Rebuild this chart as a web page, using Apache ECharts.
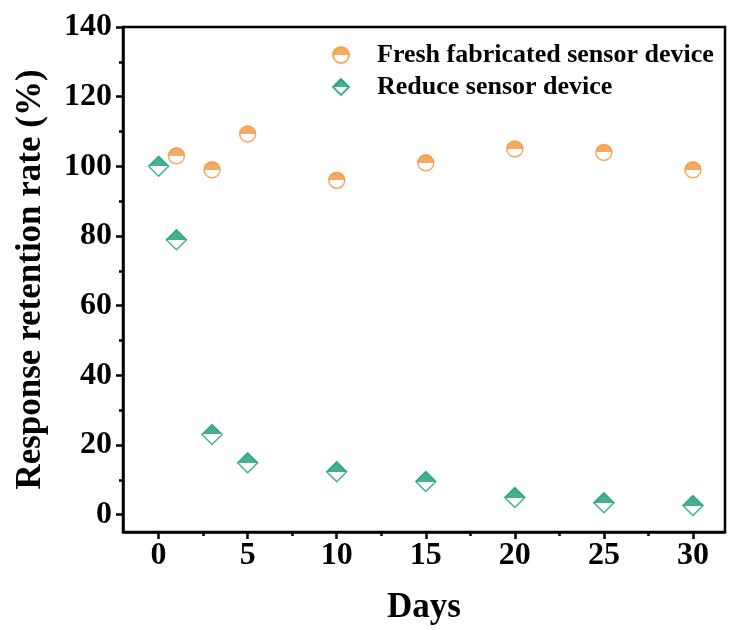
<!DOCTYPE html>
<html>
<head>
<meta charset="utf-8">
<script src="https://cdn.jsdelivr.net/npm/echarts@6/dist/echarts.min.js"></script>
<style>
  html, body { margin: 0; padding: 0; background: #fff; }
</style>
</head>
<body>
<div style="height: 630px; width: 729px" id="chart"></div>
<script>
// values
const freshDays = [1, 3, 5, 10, 15, 20, 25, 30];
const freshValues = [103, 99, 109.3, 96, 101, 105, 104, 99];
const reduceDays = [0, 1, 3, 5, 10, 15, 20, 25, 30];
const reduceValues = [100, 78.9, 23, 14.9, 12.3, 9.5, 4.9, 3.4, 2.6];

const xTicks = [0, 5, 10, 15, 20, 25, 30];
const xMinorTicks = [2.5, 7.5, 12.5, 17.5, 22.5, 27.5];
const yTicks = [0, 20, 40, 60, 80, 100, 120, 140];
const yMinorTicks = [10, 30, 50, 70, 90, 110, 130];

const orange = "#F0963A";
const green = "#179C74";
const font = "Liberation Serif";

// top half filled, bottom half white
const halfFill = (color) => ({
  type: "linear", x: 0, y: 0, x2: 0, y2: 1,
  colorStops: [
    { offset: 0, color: color },
    { offset: 0.5, color: color },
    { offset: 0.5, color: "#fff" },
    { offset: 1, color: "#fff" },
  ],
});

const pairs = (xs, ys) => xs.map((x, i) => [x, ys[i]]);

const xMin = -2, xMax = 31.8;
const yMin = -5, yMax = 140;

const majorX = {
  type: "value", min: xMin, max: xMax,
  axisLine: { show: true, onZero: false, lineStyle: { color: "#000", width: 2.5 } },
  axisTick: { show: true, customValues: xTicks, length: 7,
    lineStyle: { color: "#000", width: 2.5 } },
  axisLabel: { show: true, customValues: xTicks, margin: 8,
    fontFamily: font, fontWeight: "bold", fontSize: 32, color: "#000" },
  splitLine: { show: false },
  name: "Days", nameLocation: "middle", nameGap: 58,
  nameTextStyle: { fontFamily: font, fontWeight: "bold", fontSize: 35, color: "#000" },
};
const minorX = {
  type: "value", min: xMin, max: xMax, position: "bottom",
  axisLine: { show: false, onZero: false },
  axisTick: { show: true, customValues: xMinorTicks, length: 4,
    lineStyle: { color: "#000", width: 2.5 } },
  axisLabel: { show: false },
  splitLine: { show: false },
};
const majorY = {
  type: "value", min: yMin, max: yMax,
  axisLine: { show: true, onZero: false, lineStyle: { color: "#000", width: 2.5 } },
  axisTick: { show: true, customValues: yTicks, length: 7,
    lineStyle: { color: "#000", width: 2.5 } },
  axisLabel: { show: true, customValues: yTicks, margin: 11,
    fontFamily: font, fontWeight: "bold", fontSize: 32, color: "#000" },
  splitLine: { show: false },
  name: "Response retention rate (%)", nameLocation: "middle", nameGap: 75,
  nameTextStyle: { fontFamily: font, fontWeight: "bold", fontSize: 35, color: "#000" },
};
const minorY = {
  type: "value", min: yMin, max: yMax, position: "left",
  axisLine: { show: false, onZero: false },
  axisTick: { show: true, customValues: yMinorTicks, length: 4,
    lineStyle: { color: "#000", width: 2.5 } },
  axisLabel: { show: false },
  splitLine: { show: false },
};

const options = {
  animation: false,
  grid: {
    left: 123, top: 27, right: 4, bottom: 98,
    show: true, borderColor: "#000", borderWidth: 2.5,
  },
  legend: {
    orient: "vertical",
    left: 327, top: 37,
    itemWidth: 16, itemHeight: 16, itemGap: 6,
    textStyle: { fontFamily: font, fontWeight: "bold", fontSize: 26, color: "#000",
      padding: [0, 0, 0, 23] },
    data: ["Fresh fabricated sensor device", "Reduce sensor device"],
  },
  xAxis: [majorX, minorX],
  yAxis: [majorY, minorY],
  series: [
    {
      name: "Fresh fabricated sensor device",
      type: "scatter",
      symbol: "circle",
      symbolSize: 16,
      itemStyle: { color: halfFill(orange), borderColor: orange, borderWidth: 1.5 },
      data: pairs(freshDays, freshValues),
    },
    {
      name: "Reduce sensor device",
      type: "scatter",
      symbol: "diamond",
      symbolSize: 20,
      itemStyle: { color: halfFill(green), borderColor: green, borderWidth: 1.5 },
      data: pairs(reduceDays, reduceValues),
    },
  ],
};

let myChart = echarts.init(document.getElementById("chart"));
myChart.setOption(options);
</script>
</body>
</html>
